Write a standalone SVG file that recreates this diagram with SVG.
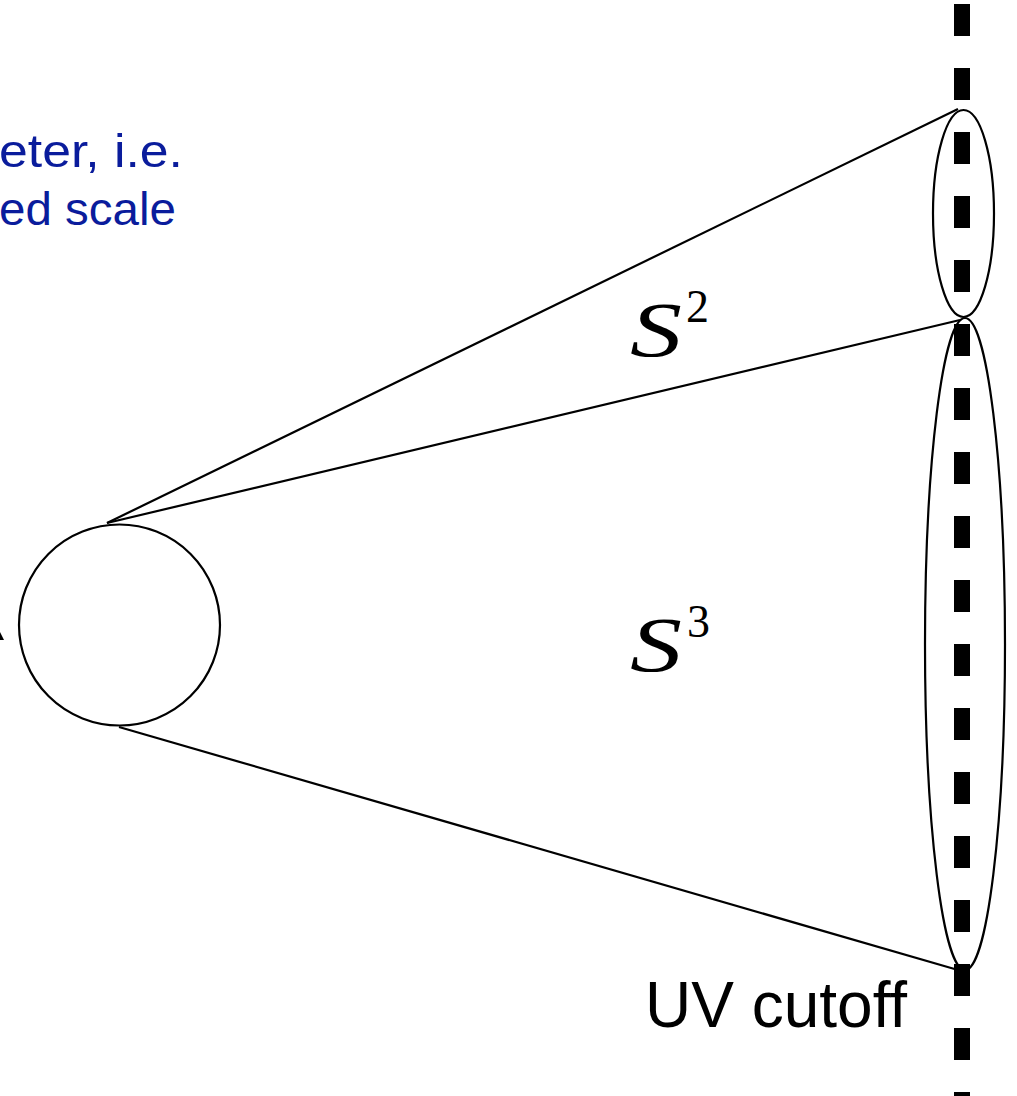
<svg xmlns="http://www.w3.org/2000/svg" width="1017" height="1096" viewBox="0 0 1017 1096">
<style>
.ln{stroke:#000;stroke-width:2.2;fill:none}
.blue{font-family:"Liberation Sans",Arial,sans-serif;font-size:47px;fill:#0a1c9c}
.math{font-family:"Liberation Serif","Times New Roman",serif;font-style:italic;fill:#000}
.sup{font-family:"Liberation Serif","Times New Roman",serif;fill:#000}
</style>
<rect width="1017" height="1096" fill="#fff"/>
<g id="cutoff-line">
<line x1="962" y1="4" x2="962" y2="1096" stroke="#000" stroke-width="16" stroke-dasharray="32 32"/>
</g>
<g id="connectors">
<line class="ln" x1="107" y1="523" x2="958" y2="109"/>
<line class="ln" x1="107" y1="523" x2="960" y2="320"/>
<line class="ln" x1="119" y1="727" x2="958" y2="970"/>
<polygon points="0,632 4,640 0,640" fill="#000"/>
</g>
<g id="circle-node">
<circle class="ln" cx="119.5" cy="625" r="100.5"/>
</g>
<g id="small-ellipse">
<ellipse class="ln" cx="963.5" cy="213.5" rx="30.5" ry="103.5"/>
</g>
<g id="big-ellipse">
<ellipse class="ln" cx="965" cy="644" rx="40" ry="326"/>
</g>
<g id="label-s2">
<text class="math" x="630" y="356" font-size="78" textLength="52" lengthAdjust="spacingAndGlyphs">S</text>
<text class="sup" x="686" y="322" font-size="46">2</text>
</g>
<g id="label-s3">
<text class="math" x="630" y="671" font-size="78" textLength="52" lengthAdjust="spacingAndGlyphs">S</text>
<text class="sup" x="687" y="637" font-size="46">3</text>
</g>
<g id="label-uv">
<text x="645" y="1027" font-family="Liberation Sans,Arial,sans-serif" font-size="64" fill="#000">UV cutoff</text>
</g>
<g id="blue-note">
<text class="blue" x="-1" y="167" textLength="184" lengthAdjust="spacingAndGlyphs">eter, i.e.</text>
<text class="blue" x="-1" y="225" textLength="177" lengthAdjust="spacingAndGlyphs">ed scale</text>
</g>
</svg>
